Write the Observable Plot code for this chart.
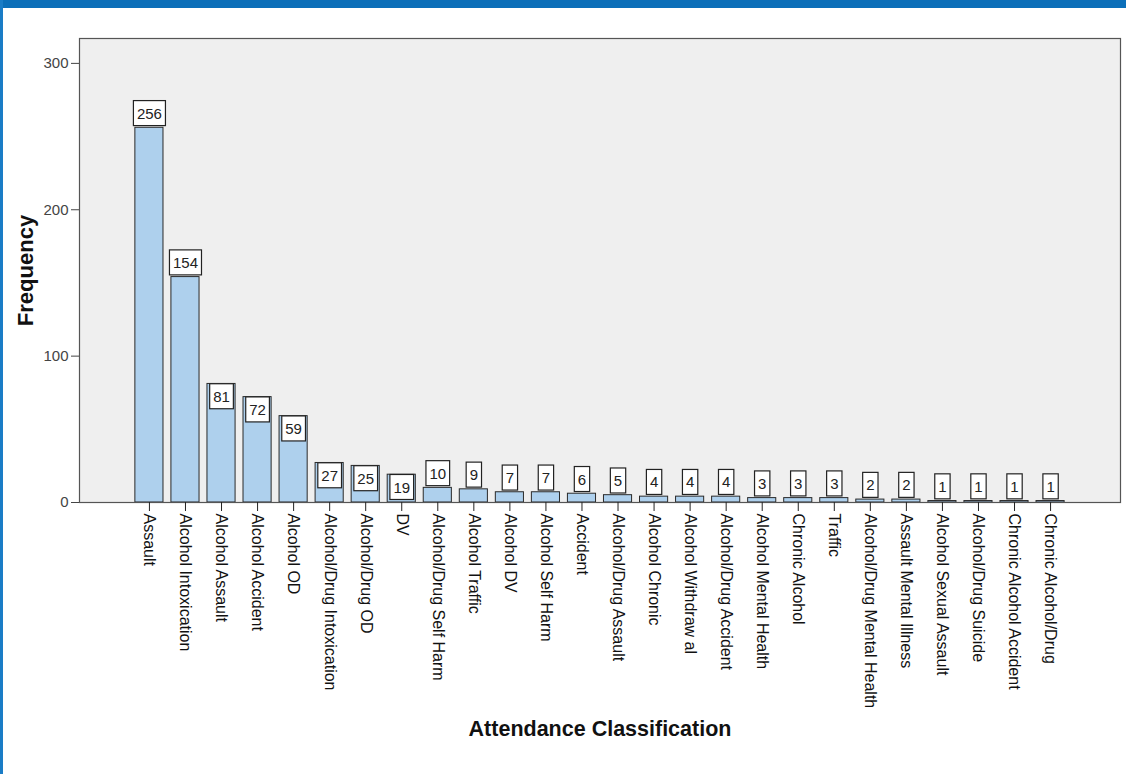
<!DOCTYPE html>
<html><head><meta charset="utf-8">
<script src="https://cdn.jsdelivr.net/npm/d3@7"></script>
<script src="https://cdn.jsdelivr.net/npm/@observablehq/plot@0.6"></script>
<style>
body{margin:0;background:#fff;font-family:"Liberation Sans",Arial,sans-serif;}
#wrap{position:relative;width:1126px;height:774px;overflow:hidden;background:#fff}
#topbar{position:absolute;left:0;top:0;width:1126px;height:8px;background:#0c6fb9}
#leftbar{position:absolute;left:0;top:0;width:3px;height:774px;background:#1a7cc6}
#wrap svg{position:absolute;left:0;top:0}
</style></head>
<body><div id="wrap"><div id="topbar"></div><div id="leftbar"></div></div>
<script>
const categories = ["Assault","Alcohol Intoxication","Alcohol Assault","Alcohol Accident","Alcohol OD",
  "Alcohol/Drug Intoxication","Alcohol/Drug OD","DV","Alcohol/Drug Self Harm","Alcohol Traffic",
  "Alcohol DV","Alcohol Self Harm","Accident","Alcohol/Drug Assault","Alcohol Chronic",
  "Alcohol Withdraw al","Alcohol/Drug Accident","Alcohol Mental Health","Chronic Alcohol","Traffic",
  "Alcohol/Drug Mental Health","Assault Mental Illness","Alcohol Sexual Assault","Alcohol/Drug Suicide",
  "Chronic Alcohol Accident","Chronic Alcohol/Drug"];
const frequencies = [256,154,81,72,59,27,25,19,10,9,7,7,6,5,4,4,4,3,3,3,2,2,1,1,1,1];
const yTicks = [0,100,200,300];
const xTitle = "Attendance Classification";
const yTitle = "Frequency";

const data = categories.map((c,i)=>({category:c, frequency:frequencies[i]}));
const inside = d => d.frequency >= 15 && d.frequency < 100;

const chart = Plot.plot({
  width:1126, height:774,
  marginTop:38, marginBottom:272, marginLeft:79, marginRight:6,
  style:{fontFamily:"'Liberation Sans', Arial, sans-serif", fontSize:"15px", background:"transparent", color:"#222", overflow:"visible"},
  x:{domain:categories, paddingInner:0.22, paddingOuter:1.55, round:false},
  y:{domain:[0,317]},
  marks:[
    Plot.frame({fill:"#efefef", stroke:"none"}),
    Plot.barY(data,{x:"category", y:"frequency", fill:"#aed0ed", stroke:"#2a2a2a", strokeWidth:1}),
    Plot.text(data.filter(d=>!inside(d)),{x:"category", y:"frequency", text:d=>String(d.frequency), dy:-14, fill:"#222", fontSize:15, className:"vlabel"}),
    Plot.text(data.filter(inside),{x:"category", y:"frequency", text:d=>String(d.frequency), dy:13, fill:"#222", fontSize:15, className:"vlabel"}),
    Plot.frame({stroke:"#555", strokeWidth:1.2}),
    Plot.axisY({ticks:yTicks, tickSize:8, tickPadding:3, fill:"#444", stroke:"#444", fontSize:15, label:null}),
    Plot.axisX({tickRotate:90, tickSize:9, tickPadding:2, fill:"#111", stroke:"#222", fontSize:16, label:null}),
    Plot.text([yTitle],{frameAnchor:"left", dx:-54, rotate:-90, textAnchor:"middle", text:d=>d, fontWeight:"bold", fontSize:22, fill:"#111"}),
    Plot.text([xTitle],{frameAnchor:"bottom", dy:233, textAnchor:"middle", text:d=>d, fontWeight:"bold", fontSize:21.5, fill:"#111"})
  ]
});
document.getElementById("wrap").appendChild(chart);

// white boxes behind value labels
chart.querySelectorAll("g.vlabel text").forEach(t=>{
  const b = t.getBBox();
  const r = document.createElementNS("http://www.w3.org/2000/svg","rect");
  r.setAttribute("x", b.x-3.5); r.setAttribute("y", b.y-4);
  r.setAttribute("width", b.width+7); r.setAttribute("height", b.height+8);
  r.setAttribute("fill","#fff"); r.setAttribute("stroke","#222"); r.setAttribute("stroke-width","1.2");
  if (t.getAttribute("transform")) r.setAttribute("transform", t.getAttribute("transform"));
  t.parentNode.insertBefore(r, t);
});
</script>
</body></html>
